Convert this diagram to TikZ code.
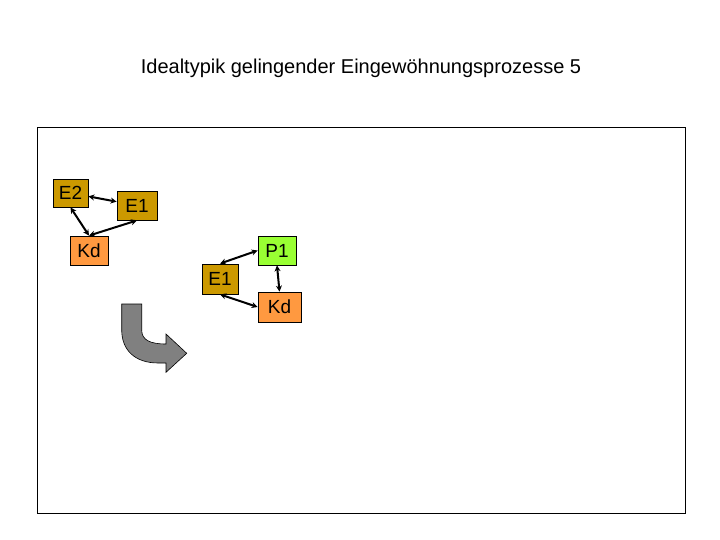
\documentclass[tikz,border=0pt]{standalone}
\usepackage{fontspec}
\setmainfont{Liberation Sans}
\usetikzlibrary{arrows.meta}
\definecolor{egold}{HTML}{CC9900}
\definecolor{kdorange}{HTML}{FF9940}
\definecolor{pgreen}{HTML}{99FF33}
\definecolor{arrgray}{HTML}{808080}
\tikzset{
  box/.style={draw=black, line width=0.8pt, inner sep=0pt, font=\fontsize{19}{22}\selectfont},
  rel/.style={line width=2pt, {Stealth[length=6pt,width=6pt]}-{Stealth[length=6pt,width=6pt]}},
  frame/.style={draw=black, line width=1pt},
  bigarrow/.style={fill=arrgray, draw=black, line width=0.6pt}
}
\begin{document}
\begin{tikzpicture}[x=1pt,y=-1pt]
\useasboundingbox (0,0) rectangle (720,540);
\node[font=\fontsize{20}{24}\selectfont] (title) at (361,68) {Idealtypik gelingender Eingewöhnungsprozesse 5};
\draw[frame] (37,128) rectangle (685,513);
% first group
\node[box, fill=egold, minimum width=35pt, minimum height=28pt] (E2) at (70.5,193) {E2};
\node[box, fill=egold, minimum width=40pt, minimum height=29pt] (E1a) at (137,205.5) {E1};
\node[box, fill=kdorange, minimum width=38pt, minimum height=29pt] (Kda) at (89,250.5) {Kd};
\draw[rel] (E2) -- (E1a);
\draw[rel] (E2.south) -- (Kda.north);
\draw[rel] (Kda.north) -- (E1a.south);
% second group
\node[box, fill=pgreen, minimum width=38pt, minimum height=29pt] (P1) at (277,250.5) {P1};
\node[box, fill=egold, minimum width=36pt, minimum height=30pt] (E1b) at (220,279) {E1};
\node[box, fill=kdorange, minimum width=43pt, minimum height=30pt] (Kdb) at (279.5,307) {Kd};
\draw[rel] (E1b.north) -- (P1.west);
\draw[rel] (P1.south) -- (Kdb.north);
\draw[rel] (E1b.south) -- (Kdb.west);
% bent arrow
\draw[bigarrow] (121.7,304) -- (141.7,304) -- (141.7,330)
  .. controls (141.7,340) and (150,344) .. (166,344) -- (166,334) -- (186.7,353.3)
  -- (166,372.3) -- (166,363) -- (158,363)
  .. controls (135,363) and (121.7,350) .. (121.7,330) -- cycle;
\end{tikzpicture}
\end{document}
